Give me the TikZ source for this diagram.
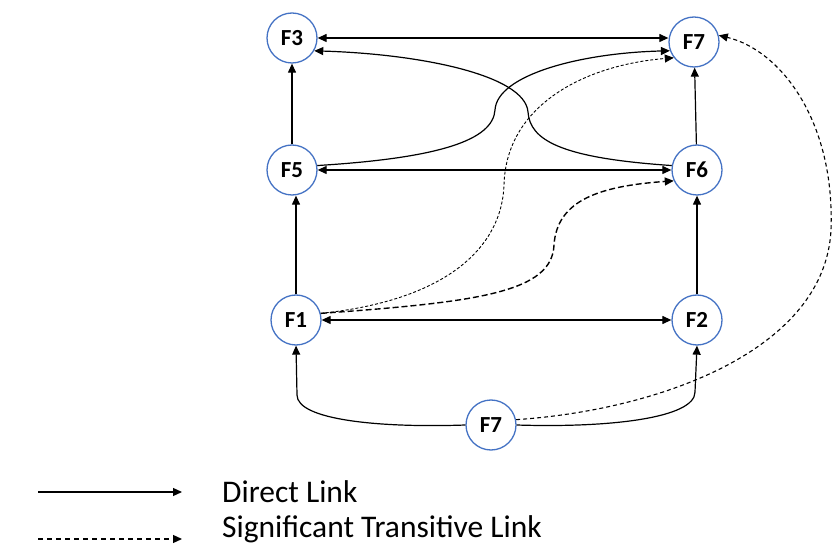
\documentclass[tikz,border=0pt]{standalone}
\usepackage{fontspec}
\setmainfont{Carlito}
\usetikzlibrary{arrows.meta}
\begin{document}
\begin{tikzpicture}[x=1pt,y=-1pt,
  fnode/.style={circle,draw={rgb,255:red,68;green,114;blue,196},line width=1.3pt,fill=white,
    minimum size=50pt,inner sep=0pt,font=\bfseries\fontsize{23}{26}\selectfont},
  tip/.style={-{Triangle[length=9pt,width=8pt]}},
  both/.style={{Triangle[length=9pt,width=8pt]}-{Triangle[length=9pt,width=8pt]}},
  direct/.style={line width=1.2pt,black},
  trfine/.style={line width=0.9pt,dash pattern=on 3pt off 2pt},
  trbold/.style={line width=1.4pt,dash pattern=on 6pt off 3pt},
  trmid/.style={line width=1.1pt,dash pattern=on 4pt off 3pt},
  legtext/.style={anchor=base west,inner sep=0pt,font=\fontsize{31.5}{36}\selectfont}]
\useasboundingbox (0,0) rectangle (833,545);

\node[fnode] (F3) at (292,38) {F3};
\node[fnode] (F7t) at (694,42) {F7};
\node[fnode] (F5) at (292,170) {F5};
\node[fnode] (F6) at (697,170) {F6};
\node[fnode] (F1) at (296,320) {F1};
\node[fnode] (F2) at (697,320) {F2};
\node[fnode] (F7b) at (491,425) {F7};

% straight direct links
\draw[direct,both] (F3.east) -- (F3.east -| F7t.west);
\draw[direct,both] (F5.east) -- (F6.west);
\draw[direct,both] (F1.east) -- (F2.west);
\draw[direct,tip] (F5) -- (F3);
\draw[direct,tip] (F6) -- (F7t);
\draw[direct,tip] (F1.north) -- (F1.north |- F5.south);
\draw[direct,tip] (F2) -- (F6);

% curved direct links
\draw[direct,tip] (F5.10) .. controls (440,158) and (493,140) .. (495,110)
   .. controls (497,75) and (580,53) .. (F7t.200);
\draw[direct,tip] (F6.170) .. controls (560,158) and (530,140) .. (528,112)
   .. controls (525,75) and (420,54) .. (F3.-30);
\draw[direct,tip] (F7b.west) .. controls (380,428) and (297,420) .. (297,395) -- (F1.south);
\draw[direct,tip] (F7b.east) .. controls (610,428) and (695,418) .. (695,392) -- (F2.south);

% transitive links
\draw[trfine,tip] (F1.15) .. controls (450,300) and (502,245) .. (504,185)
   .. controls (506,105) and (585,65) .. (F7t.218);
\draw[trbold,tip] (F1.15) .. controls (480,302) and (552,292) .. (554,245)
   .. controls (557,200) and (600,186) .. (F6.205);
\draw[trmid,tip] (F7b.12) .. controls (660,410) and (825,350) .. (831,230)
   .. controls (835,120) and (780,50) .. (F7t.15);

% legend
\coordinate (la1) at (38,492);
\coordinate (la2) at (182,492);
\coordinate (lb1) at (38,539);
\coordinate (lb2) at (182,539);
\draw[direct,tip] (la1) -- (la2);
\draw[line width=1.3pt,dash pattern=on 5pt off 4pt,tip] (lb1) -- (lb2);
\node[legtext] (t1) at (222,502) {Direct Link};
\node[legtext] (t2) at (222,537) {Significant Transitive Link};
\end{tikzpicture}
\end{document}
